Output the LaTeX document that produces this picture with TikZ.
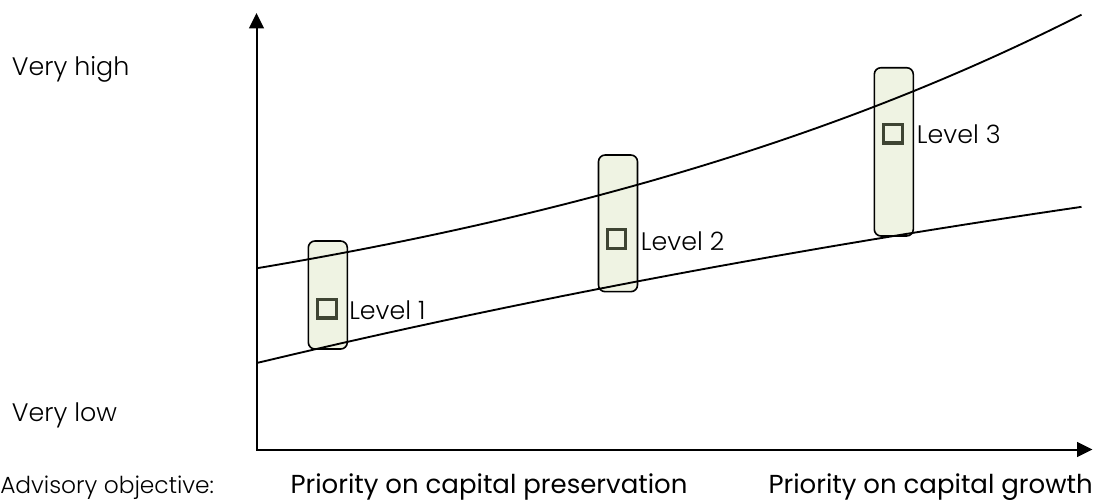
\documentclass[tikz,border=0pt]{standalone}
\usepackage{fontspec}
\setmainfont{Poppins}
\newfontfamily\lightf{Poppins Light}
\usetikzlibrary{arrows.meta}
\definecolor{boxfill}{HTML}{EFF3E3}
\definecolor{sqdraw}{HTML}{3E4433}
\begin{document}
\begin{tikzpicture}[x=0.75pt,y=-0.75pt,
  axis/.style={line width=1.5pt, line join=miter,
    {Triangle[length=11.5pt,width=11pt]}-{Triangle[length=11.5pt,width=11pt]}},
  curve/.style={line width=1.4pt},
  levelbox/.style={draw=black, fill=boxfill, line width=1.2pt, rounded corners=5pt,
    inner sep=0pt, minimum width=29.25pt},
  sq/.style={draw=sqdraw, fill=boxfill, line width=2.4pt, minimum size=13.8pt, inner sep=0pt},
  lbl/.style={inner sep=0pt, anchor=base west, font=\lightf\fontsize{19}{22}\selectfont},
  axlbl/.style={inner sep=0pt, anchor=base, font=\fontsize{19.5}{22}\selectfont}]
\useasboundingbox (0,0) rectangle (1096,501);
% level boxes
\node[levelbox, minimum height=81pt] (b1) at (327.8,295) {};
\node[levelbox, minimum height=102.5pt] (b2) at (618,223.35) {};
\node[levelbox, minimum height=126.2pt] (b3) at (893.8,151.85) {};
% curves
\draw[curve] plot[domain=0:825, samples=90] ({256.5+\x},{268.3-125.1*(exp(0.00135*\x)-1)});
\draw[curve] plot[domain=0:825, samples=90] ({256.5+\x},{363-402.6*(1-exp(-0.0006*\x))});
% axes
\coordinate (O) at (256.5,449.5);
\coordinate (Ytip) at (256.5,13);
\coordinate (Xtip) at (1092.5,449.5);
\draw[axis] (Ytip) -- (O) -- (Xtip);
% squares and labels
\node[sq] (s1) at (327,308.8) {};
\node[sq] (s2) at (616.3,239) {};
\node[sq] (s3) at (893,133.7) {};
\node[lbl] (l1) at (349,319) {Level 1};
\node[lbl] (l2) at (640.7,250) {Level 2};
\node[lbl] (l3) at (916.7,143.3) {Level 3};
% axis texts
\node[lbl] (vh) at (11.7,75) {Very high};
\node[lbl] (vl) at (11.7,421) {Very low};
\node[lbl, font=\lightf\fontsize{17.5}{22}\selectfont] (ao) at (0,493) {Advisory objective:};
\node[axlbl] (pp) at (489,493) {Priority on capital preservation};
\node[axlbl, anchor=base east] (pg) at (1093,493) {Priority on capital growth};
\end{tikzpicture}
\end{document}
